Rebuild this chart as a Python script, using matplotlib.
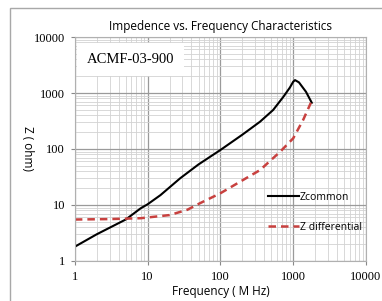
import numpy as np
import matplotlib
matplotlib.use("Agg")
import matplotlib.pyplot as plt
from matplotlib.patches import Rectangle

# frequency (MHz) and impedance (ohm)
f_common = [1, 2, 5, 8, 10, 15, 28, 50, 100, 200, 350, 530, 735, 900, 1000, 1060, 1200, 1500, 1800]
z_common = [1.8, 3.0, 5.5, 8.7, 10.3, 15, 30, 53, 96, 180, 307, 497, 860, 1250, 1590, 1700, 1550, 1050, 670]

f_diff = [1, 3, 8, 20, 35, 52, 100, 186, 350, 660, 1000, 1370, 1750]
z_diff = [5.5, 5.6, 5.8, 6.6, 8.2, 10.7, 16.2, 26, 42, 89, 155, 330, 670]

xticks = [1, 10, 100, 1000, 10000]
yticks = [1, 10, 100, 1000, 10000]

fig = plt.figure(figsize=(3.82, 3.01), dpi=100)
ax = fig.add_axes([0.196, 0.133, 0.762, 0.744])

# outer frame of the chart area
fig.patches.append(Rectangle((10/382, -0.1), 1.2, 1 - 8/301 + 0.1, transform=fig.transFigure,
                             fill=False, edgecolor='#a8a8a8', lw=1.0))

ax.plot(f_common, z_common, color='black', lw=1.5, label='Zcommon')
ax.plot(f_diff, z_diff, color='#c8413f', lw=1.8, ls=(0, (3, 2)), label='Z differential')

ax.set_xscale('log')
ax.set_yscale('log')
ax.set_xlim(1, 10000)
ax.set_ylim(1, 10000)
ax.set_xticks(xticks)
ax.set_xticklabels([str(t) for t in xticks], family='Liberation Serif', fontsize=9)
ax.set_yticks(yticks)
ax.set_yticklabels([str(t) for t in yticks], family='Liberation Serif', fontsize=9)
ax.tick_params(which='major', length=3, color='#888888', pad=4)
ax.tick_params(which='minor', length=0)

ax.grid(which='major', color='#9a9a9a', lw=0.9)
ax.grid(which='minor', color='#d2d2d2', lw=0.6)
ax.set_axisbelow(True)
for s in ax.spines.values():
    s.set_color('#b0b0b0')
    s.set_linewidth(0.8)

ax.set_title('Impedence vs. Frequency Characteristics', fontsize=8.5, family='Open Sans', pad=5)
ax.set_xlabel('Frequency ( M Hz)', fontsize=8.5, family='Open Sans', labelpad=2)
ax.set_ylabel('Z ( ohm)', fontsize=8.5, family='Open Sans', rotation=270)
ax.yaxis.set_label_coords(-0.185, 0.5)

ax.text(0.04, 0.9, 'ACMF-03-900', transform=ax.transAxes, family='Liberation Serif',
        fontsize=10.5, va='center', ha='left',
        bbox=dict(facecolor='white', edgecolor='none', pad=7))

ax.legend(loc='upper left', bbox_to_anchor=(0.63, 0.35), frameon=False,
          handlelength=3.0, handletextpad=0.1, labelspacing=1.8,
          prop={'family': 'Open Sans', 'size': 7.5})

fig.savefig('out.png', dpi=100)
